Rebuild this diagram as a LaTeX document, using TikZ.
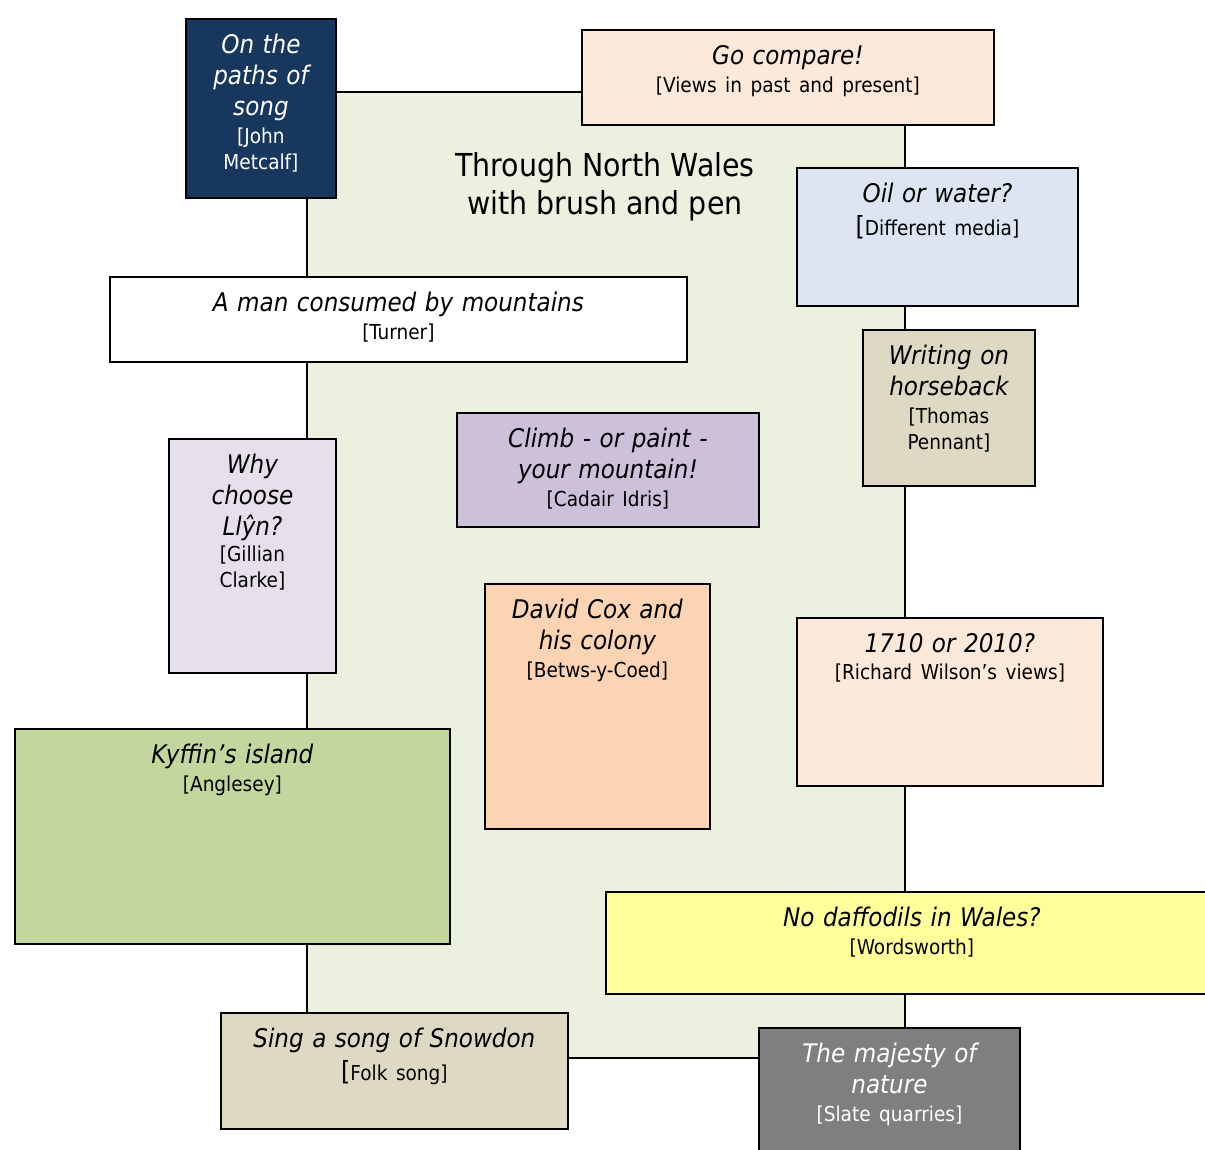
\documentclass[tikz,border=0pt]{standalone}
\usepackage{fontspec}
\setmainfont{DejaVu Sans Condensed}
\usetikzlibrary{positioning}

\definecolor{panel}{HTML}{EBF1DE}
\definecolor{navy}{HTML}{17375E}
\definecolor{peach}{HTML}{FDE9D9}
\definecolor{skyblue}{HTML}{DCE6F2}
\definecolor{stone}{HTML}{DDD9C3}
\definecolor{lilac}{HTML}{CCC0DA}
\definecolor{palelilac}{HTML}{E5E0EC}
\definecolor{apricot}{HTML}{FBD4B4}
\definecolor{moss}{HTML}{C3D69B}
\definecolor{lemon}{HTML}{FFFF99}
\definecolor{slate}{HTML}{7F7F7F}

\newcommand{\subsize}{\fontsize{11.7pt}{14.8pt}\selectfont\upshape}
\newcommand{\cardsub}[2][1pt]{\par\vspace{#1}{\subsize #2\par}}
\newcommand{\bigbrack}{{\fontsize{15pt}{15pt}\selectfont[}}

\tikzset{
  card/.style={draw=black, line width=1.1pt, anchor=north west, inner sep=0pt},
  cardtext/.style={anchor=north, align=center, inner sep=0pt,
    font=\fontsize{14.6pt}{17.6pt}\selectfont\itshape}
}

\begin{document}
\begin{tikzpicture}[x=0.02cm, y=-0.02cm]
\useasboundingbox (0,0) rectangle (1205,1150);
\clip (0,0) rectangle (1205,1150);
% central panel
\node[card, fill=panel, minimum width=11.96cm, minimum height=19.32cm] (panel) at (306,91) {};
\node[align=center, font=\fontsize{18pt}{21.5pt}\selectfont] (title) at (605,187) {Through North Wales\\with brush and pen};

% boxes on the left edge
\node[card, fill=navy, minimum width=3cm, minimum height=3.58cm] (song) at (185,18) {};
\node[cardtext, text=white, text width=2.8cm, below=9pt of song.north] (song-t) {On the\\paths of\\song\cardsub{[John\\Metcalf]}};
\node[card, fill=white, minimum width=11.54cm, minimum height=1.7cm] (turner) at (109,276) {};
\node[cardtext, text width=11.3cm, below=9pt of turner.north] (turner-t) {A man consumed by mountains\cardsub{[Turner]}};
\node[card, fill=palelilac, minimum width=3.34cm, minimum height=4.68cm] (llyn) at (168,438) {};
\node[cardtext, text width=3.1cm, below=9pt of llyn.north] (llyn-t) {Why\\choose\\Llŷn?\cardsub[0pt]{[Gillian\\Clarke]}};
\node[card, fill=moss, minimum width=8.7cm, minimum height=4.3cm] (kyffin) at (14,728) {};
\node[cardtext, text width=8.5cm, below=9pt of kyffin.north] (kyffin-t) {Kyffin’s island\cardsub{[Anglesey]}};
\node[card, fill=stone, minimum width=6.94cm, minimum height=2.32cm] (snowdon) at (220,1012) {};
\node[cardtext, text width=6.7cm, below=9pt of snowdon.north] (snowdon-t) {Sing a song of Snowdon\cardsub[4pt]{\bigbrack Folk song]}};

% boxes inside the panel
\node[card, fill=lilac, minimum width=6.04cm, minimum height=2.28cm] (idris) at (456,412) {};
\node[cardtext, text width=5.8cm, below=9pt of idris.north] (idris-t) {Climb - or paint -\\your mountain!\cardsub{[Cadair Idris]}};
\node[card, fill=apricot, minimum width=4.5cm, minimum height=4.9cm] (cox) at (484,583) {};
\node[cardtext, text width=4.3cm, below=9pt of cox.north] (cox-t) {David Cox and\\his colony\cardsub{[Betws-y-Coed]}};

% boxes on the right edge
\node[card, fill=peach, minimum width=8.24cm, minimum height=1.9cm] (compare) at (581,29) {};
\node[cardtext, text width=8cm, below=9pt of compare.north] (compare-t) {Go compare!\cardsub[1.5pt]{[Views in past and present]}};
\node[card, fill=skyblue, minimum width=5.62cm, minimum height=2.76cm] (media) at (796,167) {};
\node[cardtext, text width=5.4cm, below=9pt of media.north] (media-t) {Oil or water?\cardsub[4pt]{\bigbrack Different media]}};
\node[card, fill=stone, minimum width=3.44cm, minimum height=3.12cm] (pennant) at (862,329) {};
\node[cardtext, text width=3.3cm, below=9pt of pennant.north] (pennant-t) {Writing on\\horseback\cardsub{[Thomas\\Pennant]}};
\node[card, fill=peach, minimum width=6.12cm, minimum height=3.36cm] (wilson) at (796,617) {};
\node[cardtext, text width=5.9cm, below=9pt of wilson.north] (wilson-t) {1710 or 2010?\cardsub{[Richard Wilson’s views]}};
\node[card, fill=lemon, minimum width=12.24cm, minimum height=2.04cm] (daffodil) at (605,891) {};
\node[cardtext, text width=12cm, below=9pt of daffodil.north] (daffodil-t) {No daffodils in Wales?\cardsub{[Wordsworth]}};
\node[card, fill=slate, minimum width=5.22cm, minimum height=2.9cm] (slate) at (758,1027) {};
\node[cardtext, text=white, text width=5cm, below=9pt of slate.north] (slate-t) {The majesty of\\nature\cardsub{[Slate quarries]}};
\end{tikzpicture}
\end{document}
